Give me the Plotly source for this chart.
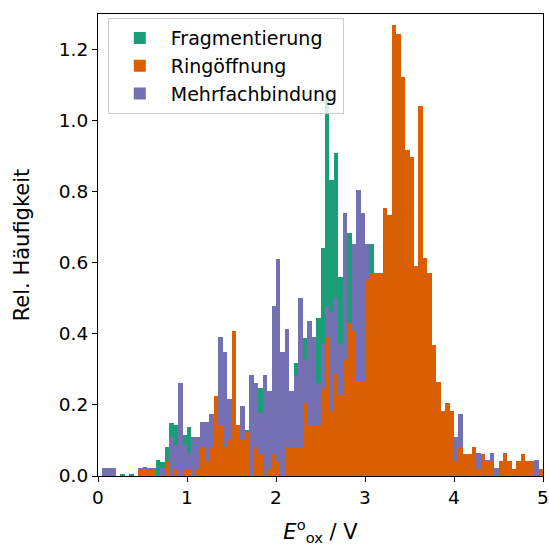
import plotly.graph_objects as go

# Histogram bins: 100 bins of width 0.05 V from 0 to 5 V
bin_width = 0.05
bin_centers = [round(0.025 + bin_width * k, 3) for k in range(100)]

# Relative frequencies per bin (density-normalised histograms)
fragmentierung = [
    0, 0, 0, 0, 0, 0.006, 0, 0.006, 0, 0,
    0.024, 0, 0, 0.045, 0.04, 0.082, 0.149, 0.143, 0.1, 0.115,
    0.138, 0.06, 0.05, 0.1, 0.08, 0.1, 0.15, 0.2, 0.15, 0.12,
    0.2, 0.1, 0.12, 0.13, 0.2, 0.2, 0.247, 0.2, 0.18, 0.3,
    0.35, 0.25, 0.3, 0.2, 0.318, 0.4, 0.388, 0.35, 0.3, 0.444,
    0.641, 1.087, 0.834, 0.91, 0.56, 0.6, 0.685, 0.5, 0.6, 0.55,
    0.5, 0.654, 0.5, 0.45, 0.5, 0.4, 0.55, 0.45, 0.4, 0.35,
    0.3, 0.25, 0.3, 0.2, 0.2, 0.15, 0.12, 0.1, 0.08, 0.06,
    0.04, 0.05, 0.03, 0.02, 0.02, 0.01, 0.02, 0.01, 0.01, 0,
    0.01, 0.01, 0, 0, 0.01, 0, 0, 0, 0, 0,
]

ringoeffnung = [
    0, 0, 0, 0, 0, 0, 0, 0, 0, 0.02,
    0.02, 0.02, 0.02, 0, 0, 0.041, 0, 0.02, 0, 0.02,
    0.02, 0, 0.02, 0.082, 0.041, 0.082, 0.225, 0.144, 0.082, 0.102,
    0.408, 0.144, 0.102, 0.124, 0, 0.082, 0.062, 0, 0.02, 0.062,
    0.041, 0, 0.082, 0.082, 0.082, 0.082, 0.206, 0.144, 0.144, 0.144,
    0.244, 0.39, 0.183, 0.287, 0.228, 0.327, 0.43, 0.408, 0.268, 0.268,
    0.552, 0.572, 0.572, 0.572, 0.755, 0.735, 1.268, 1.245, 1.124, 0.918,
    0.899, 0.592, 1.042, 0.614, 0.572, 0.369, 0.265, 0.183, 0.206, 0.183,
    0.042, 0.082, 0.062, 0.062, 0.082, 0.02, 0.062, 0.042, 0.042, 0,
    0.042, 0.062, 0.042, 0.02, 0.042, 0.062, 0.042, 0.042, 0, 0.02,
]

mehrfachbindung = [
    0, 0.022, 0.022, 0.022, 0, 0, 0, 0, 0, 0.022,
    0.022, 0.022, 0.022, 0, 0.022, 0.022, 0.11, 0.087, 0.262, 0.087,
    0.065, 0.11, 0.11, 0.152, 0.152, 0.175, 0.196, 0.392, 0.349, 0.218,
    0.24, 0.13, 0.197, 0.12, 0.285, 0.262, 0.177, 0.285, 0.24, 0.479,
    0.611, 0.349, 0.414, 0.24, 0.285, 0.5, 0.327, 0.436, 0.392, 0.262,
    0.372, 0.479, 0.461, 0.5, 0.372, 0.741, 0.41, 0.654, 0.806, 0.741,
    0.654, 0.5, 0.48, 0.44, 0.5, 0.45, 0.5, 0.45, 0.4, 0.35,
    0.3, 0.3, 0.26, 0.24, 0.2, 0.17, 0.15, 0.13, 0.11, 0.09,
    0.11, 0.175, 0.044, 0.044, 0.044, 0.065, 0.022, 0.044, 0.065, 0.022,
    0.022, 0.065, 0, 0, 0.022, 0, 0.022, 0, 0.044, 0,
]

colors = {
    "Fragmentierung": "#1b9e77",
    "Ringöffnung": "#d95f02",
    "Mehrfachbindung": "#7570b3",
}

# Drawing order (back to front): Fragmentierung, Mehrfachbindung, Ringöffnung
series = [
    ("Fragmentierung", fragmentierung, 1),
    ("Mehrfachbindung", mehrfachbindung, 3),
    ("Ringöffnung", ringoeffnung, 2),
]

fig = go.Figure()
for name, values, rank in series:
    fig.add_trace(go.Bar(
        x=bin_centers,
        y=values,
        width=bin_width,
        name=name,
        legendrank=rank,
        marker=dict(color=colors[name], line=dict(width=0)),
    ))

font_family = "DejaVu Sans"
tick_size = 18.5
title_size = 21
axis_common = dict(
    showline=True,
    linecolor="black",
    linewidth=1.2,
    mirror=True,
    ticks="outside",
    ticklen=5,
    tickwidth=1.2,
    tickcolor="black",
    showgrid=False,
    zeroline=False,
    automargin=False,
    ticklabeloverflow="allow",
    tickfont=dict(family=font_family, size=tick_size, color="black"),
)

fig.update_layout(
    width=549,
    height=546,
    barmode="overlay",
    bargap=0,
    plot_bgcolor="white",
    paper_bgcolor="white",
    margin=dict(l=98, r=6, t=14, b=70),
    font=dict(family=font_family, size=tick_size, color="black"),
    xaxis=dict(
        range=[0, 5],
        tickvals=[0, 1, 2, 3, 4, 5],
        title=dict(text="<i>E</i><sup>o</sup><sub>ox</sub> / V",
                   font=dict(family=font_family, size=title_size), standoff=26),
        **axis_common,
    ),
    yaxis=dict(
        range=[0, 1.3],
        tickvals=[0, 0.2, 0.4, 0.6, 0.8, 1.0, 1.2],
        tickformat=".1f",
        title=dict(text="Rel. Häufigkeit",
                   font=dict(family=font_family, size=title_size), standoff=23),
        **axis_common,
    ),
    legend=dict(
        x=0.022,
        y=0.991,
        xanchor="left",
        yanchor="top",
        bgcolor="rgba(255,255,255,0.8)",
        bordercolor="#cccccc",
        borderwidth=1,
        font=dict(family=font_family, size=19, color="black"),
        itemwidth=52,
        tracegroupgap=0,
    ),
    showlegend=True,
)

fig.write_html("out.html")
